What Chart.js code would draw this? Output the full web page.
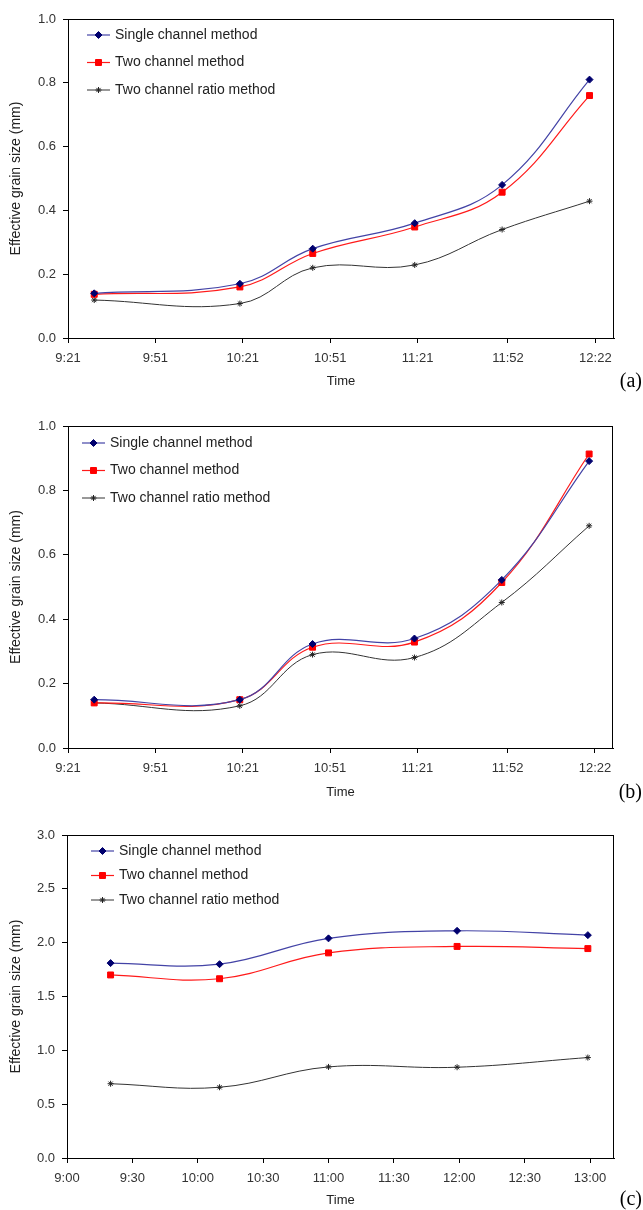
<!DOCTYPE html>
<html>
<head>
<meta charset="utf-8">
<script src="https://cdn.jsdelivr.net/npm/chart.js@4.4.1/dist/chart.umd.min.js"></script>
<style>
  html,body{margin:0;padding:0;background:#fff;}
  .box{position:relative;width:643px;}
</style>
</head>
<body>
<div class="box" style="height:400px"><canvas id="chartA"></canvas></div>
<div class="box" style="height:410px"><canvas id="chartB"></canvas></div>
<div class="box" style="height:400px"><canvas id="chartC"></canvas></div>
<script>
// ==================== Data ====================
const seriesNames = ['Single channel method','Two channel method','Two channel ratio method'];

// panels (a) and (b) share the sampling times / axis labels
const timesAB = ['9:30','10:20','10:45','11:20','11:50','12:20'];
const xTicksAB = ['9:21','9:51','10:21','10:51','11:21','11:52','12:22'];
const yTicksAB = [0,0.2,0.4,0.6,0.8,1.0];

const singleA = [0.14,0.17,0.28,0.36,0.48,0.81];
const twoA    = [0.137,0.16,0.265,0.348,0.457,0.76];
const ratioA  = [0.119,0.108,0.22,0.229,0.34,0.429];

const singleB = [0.15,0.15,0.323,0.34,0.522,0.891];
const twoB    = [0.14,0.15,0.313,0.329,0.514,0.913];
const ratioB  = [0.14,0.131,0.29,0.281,0.452,0.69];

// panel (c)
const timesC  = ['9:20','10:10','11:00','11:59','12:59'];
const xTicksC = ['9:00','9:30','10:00','10:30','11:00','11:30','12:00','12:30','13:00'];
const yTicksC = [0,0.5,1.0,1.5,2.0,2.5,3.0];

const singleC = [1.81,1.80,2.04,2.11,2.07];
const twoC    = [1.70,1.665,1.905,1.965,1.945];
const ratioC  = [0.69,0.657,0.846,0.843,0.933];

// ========================================================
Chart.defaults.font.family = "'Liberation Sans', Arial, sans-serif";
Chart.defaults.color = '#333';

function toMin(s){
  const p = s.split(':');
  return (+p[0])*60 + (+p[1]);
}

// box around plot area + legend inside + panel letter
const framePlugin = {
  id:'frame',
  afterDraw(chart, args, o){
    const ctx = chart.ctx, a = chart.chartArea;
    ctx.save();
    ctx.strokeStyle = '#000';
    ctx.lineWidth = 1;
    ctx.strokeRect(Math.round(a.left)+0.5, Math.round(a.top)+0.5,
                   Math.round(a.right-a.left)-1, Math.round(a.bottom-a.top));

    // legend
    ctx.font = "14px 'Liberation Sans', Arial, sans-serif";
    ctx.textBaseline = 'middle';
    ctx.textAlign = 'left';
    chart.data.datasets.forEach((ds,i)=>{
      const y = a.top + o.legTop + i*o.legGap;
      const x1 = a.left + o.legLeft, x2 = x1 + 23;
      ctx.strokeStyle = ds.borderColor;
      ctx.lineWidth = ds.borderWidth;
      ctx.beginPath(); ctx.moveTo(x1,y); ctx.lineTo(x2,y); ctx.stroke();
      ctx.fillStyle = ds.pointBackgroundColor;
      ctx.strokeStyle = ds.pointBorderColor;
      ctx.lineWidth = ds.pointBorderWidth;
      Chart.helpers.drawPoint(ctx,{pointStyle:ds.pointStyle,rotation:0,radius:ds.pointRadius,borderWidth:ds.pointBorderWidth},(x1+x2)/2,y);
      ctx.fillStyle = '#222';
      ctx.fillText(ds.label, x2 + 5, y);
    });

    // panel letter
    ctx.font = "20px 'Liberation Serif', 'Times New Roman', serif";
    ctx.textAlign = 'right';
    ctx.fillStyle = '#000';
    ctx.fillText(o.tag, chart.width - 1, o.tagY);
    ctx.restore();
  }
};

function makeChart(id, o){
  const xy = vals => vals.map((v,i)=>({x:toMin(o.times[i]), y:v}));
  const tickFont = {size:13};
  new Chart(document.getElementById(id),{
    type:'line',
    data:{
      datasets:[
        {label:seriesNames[0], data:xy(o.single), borderColor:'#4343a6', borderWidth:1.2,
         pointStyle:'rectRot', pointRadius:3.5, pointBackgroundColor:'#00006e', pointBorderColor:'#00006e', pointBorderWidth:1, tension:0.4},
        {label:seriesNames[1], data:xy(o.two), borderColor:'#ff1a1a', borderWidth:1.2,
         pointStyle:'rect', pointRadius:4.2, pointBackgroundColor:'#ff0000', pointBorderColor:'#ff0000', pointBorderWidth:1, tension:0.4},
        {label:seriesNames[2], data:xy(o.ratio), borderColor:'#333', borderWidth:1,
         pointStyle:'star', pointRadius:3, pointBackgroundColor:'#222', pointBorderColor:'#222', pointBorderWidth:1, tension:0.4}
      ]
    },
    options:{
      responsive:true,
      maintainAspectRatio:false,
      animation:false,
      layout:{padding:{top:o.area.top, right:643-o.area.right, left:0, bottom:0}},
      plugins:{
        legend:{display:false},
        tooltip:{enabled:false},
        frame:{tag:o.tag, tagY:o.tagY, legTop:o.legTop, legLeft:o.legLeft, legGap:o.legGap}
      },
      scales:{
        x:{
          type:'linear',
          min:toMin(o.xTicks[0]),
          max:o.xMax,
          afterBuildTicks: ax => { ax.ticks = o.xTicks.map(t=>({value:toMin(t)})); },
          afterFit: ax => { ax.height = o.h - o.area.bottom; },
          ticks:{callback:(v,i)=>o.xTicks[i], font:tickFont, color:'#333', padding:8, maxRotation:0, autoSkip:false},
          grid:{drawOnChartArea:false, tickLength:5, tickColor:'#000', color:'#000'},
          border:{color:'#000'},
          title:{display:true, text:'Time', color:'#222', font:{size:13}, padding:{top:0,bottom:o.timePad}}
        },
        y:{
          min:0,
          max:o.yTicks[o.yTicks.length-1],
          afterBuildTicks: ax => { ax.ticks = o.yTicks.map(v=>({value:v})); },
          afterFit: ax => { ax.width = o.area.left; },
          ticks:{callback:v=>v.toFixed(1), font:tickFont, color:'#333', padding:7},
          grid:{drawOnChartArea:false, tickLength:5, tickColor:'#000', color:'#000'},
          border:{color:'#000'},
          title:{display:true, text:'Effective grain size (mm)', color:'#222', font:{size:14}, padding:{top:8,bottom:0}}
        }
      }
    },
    plugins:[framePlugin]
  });
}

makeChart('chartA',{
  h:400, area:{left:68, right:614, top:19, bottom:338},
  times:timesAB, xTicks:xTicksAB, xMax:748.4, yTicks:yTicksAB,
  single:singleA, two:twoA, ratio:ratioA,
  timePad:11, tag:'(a)', tagY:382, legTop:16, legLeft:19, legGap:27.5
});
makeChart('chartB',{
  h:410, area:{left:68, right:613, top:26, bottom:348},
  times:timesAB, xTicks:xTicksAB, xMax:748.2, yTicks:yTicksAB,
  single:singleB, two:twoB, ratio:ratioB,
  timePad:10, tag:'(b)', tagY:393, legTop:17, legLeft:14, legGap:27.5
});
makeChart('chartC',{
  h:400, area:{left:67, right:614, top:25, bottom:348},
  times:timesC, xTicks:xTicksC, xMax:791, yTicks:yTicksC,
  single:singleC, two:twoC, ratio:ratioC,
  timePad:2, tag:'(c)', tagY:390, legTop:16, legLeft:24, legGap:24.5
});
</script>
</body>
</html>
